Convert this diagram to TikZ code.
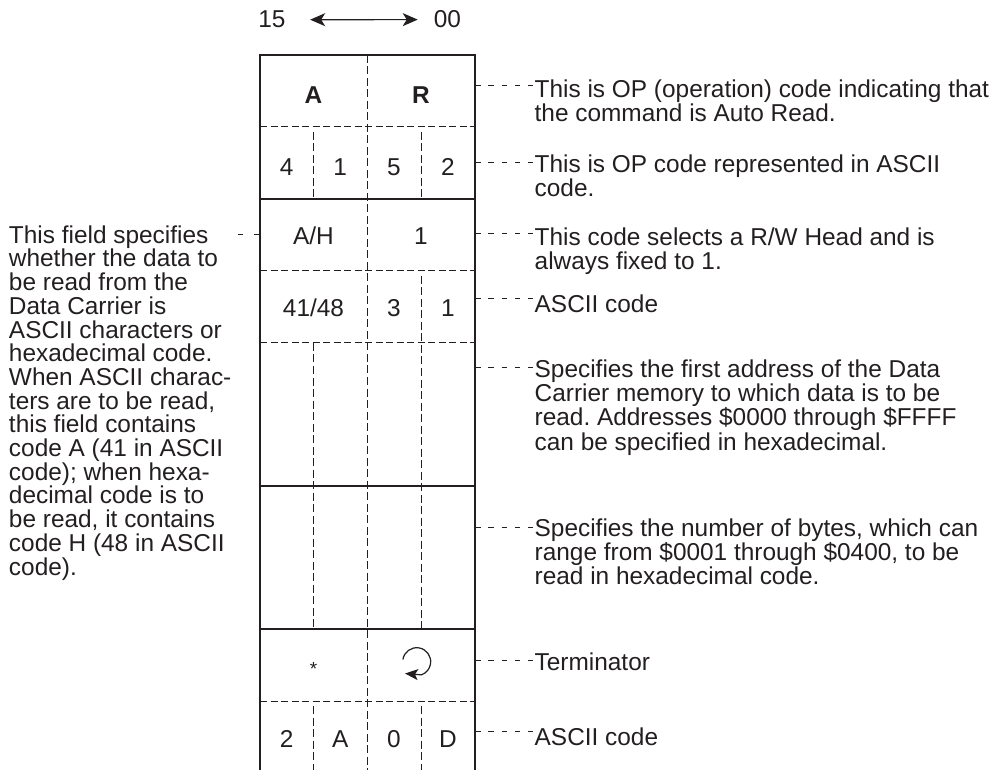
\documentclass[tikz,border=0pt]{standalone}
\usepackage{fontspec}
\setmainfont{Liberation Sans}
\usetikzlibrary{arrows.meta}
\definecolor{ink}{RGB}{35,31,32}
\newcommand{\tstrut}{\rule{0pt}{20pt}}
\frenchspacing
\begin{document}
\begin{tikzpicture}[x=1pt,y=1pt,
  txt/.style={font=\fontsize{24.4}{24.3}\selectfont\frenchspacing, inner sep=0pt, anchor=north west, align=left, text=ink},
  txtL/.style={txt, font=\fontsize{24.4}{23.7}\selectfont\frenchspacing},
  cell/.style={font=\fontsize{24.4}{24}\selectfont, inner sep=0pt, anchor=base, text=ink},
  bcell/.style={cell, font=\fontsize{24.4}{24}\selectfont\bfseries},
  outer/.style={line width=2.4pt, draw=ink},
  inner/.style={line width=1.5pt, draw=ink},
  hd/.style={line width=1pt, draw=ink, dash pattern=on 7pt off 3.5pt},
  vd/.style={line width=1pt, draw=ink, dash pattern=on 8pt off 3.5pt},
  leader/.style={line width=1pt, draw=ink, dash pattern=on 5.5pt off 7.8pt},
  leaderL/.style={line width=1pt, draw=ink, dash pattern=on 5pt off 11pt},
  arr/.style={line width=1.2pt, draw=ink, {Stealth[length=15pt,width=13pt,inset=4pt]}-{Stealth[length=15pt,width=13pt,inset=4pt]}},
]
\useasboundingbox (0,0) rectangle (997,-770);

% top bit-order arrow
\node[cell] (n15) at (272,-28) {15};
\node[cell] (n00) at (447.5,-28) {00};
\draw[arr, shorten <=24.4pt, shorten >=16pt] (n15) -- (n00);

% horizontal separators
\draw[hd] (260,-127) -- (475,-127);
\draw[inner] (260,-199) -- (475,-199);
\draw[hd] (260,-271) -- (475,-271);
\draw[hd] (260,-343) -- (475,-343);
\draw[inner] (260,-486) -- (475,-486);
\draw[inner] (260,-629) -- (475,-629);
\draw[hd] (260,-701) -- (475,-701);

% vertical dashed dividers
\draw[vd] (367,-55) -- (367,-770);
\draw[vd] (313.5,-132) -- (313.5,-199);
\draw[vd] (313.5,-343) -- (313.5,-629);
\draw[vd] (313.5,-706) -- (313.5,-770);
\draw[vd] (421,-132) -- (421,-199);
\draw[vd] (421,-276) -- (421,-629);
\draw[vd] (421,-706) -- (421,-770);

% outer frame (open at the bottom)
\draw[outer, line join=miter] (260,-770) -- (260,-55) -- (475,-55) -- (475,-770);

% cell contents
\node[bcell] (cA) at (313.5,-104) {A};
\node[bcell] (cR) at (421,-104) {R};
\node[cell] (c21) at (286.75,-176) {4};
\node[cell] (c22) at (340.25,-176) {1};
\node[cell] (c23) at (394,-176) {5};
\node[cell] (c24) at (448,-176) {2};
\node[cell] (c31) at (313.5,-245) {A/H};
\node[cell] (c32) at (421,-245) {1};
\node[cell] (c41) at (313.5,-317) {41/48};
\node[cell] (c42) at (394,-317) {3};
\node[cell] (c43) at (448,-317) {1};
\node[cell, font=\fontsize{19}{19}\selectfont] (c71) at (313.5,-675) {*};
\draw[line width=1.2pt, draw=ink, -{Stealth[length=13pt,width=11pt,inset=3pt]}]
  (416.7,-661.7) ++(171:14) arc[start angle=171, end angle=-70, radius=14] -- (405,-673.5);
\node[cell] (c81) at (286.75,-747) {2};
\node[cell] (c82) at (340.25,-747) {A};
\node[cell] (c83) at (394,-747) {0};
\node[cell] (c84) at (448,-747) {D};

% right-hand descriptions
\node[txt] (t1) at (534.5,-77) {\tstrut This is OP (operation) code indicating that\\the command is Auto Read.};
\node[txt] (t2) at (534.5,-152) {\tstrut This is OP code represented in ASCII\\code.};
\node[txt] (t3) at (534.5,-225) {\tstrut This code selects a R/W Head and is\\always fixed to 1.};
\node[txt] (t4) at (534.5,-292) {\tstrut ASCII code};
\node[txt] (t5) at (534.5,-357) {\tstrut Specifies the first address of the Data\\Carrier memory to which data is to be\\read. Addresses \$0000 through \$FFFF\\can be specified in hexadecimal.};
\node[txt] (t6) at (534.5,-516) {\tstrut Specifies the number of bytes, which can\\range from \$0001 through \$0400, to be\\read in hexadecimal code.};
\node[txt] (t7) at (534.5,-650) {\tstrut Terminator};
\node[txt] (t8) at (534.5,-725) {\tstrut ASCII code};

\coordinate (r1) at (475,-86);
\coordinate (r2) at (475,-163);
\coordinate (r3) at (475,-234);
\coordinate (r4) at (475,-298.7);
\coordinate (r5) at (475,-367.7);
\coordinate (r6) at (475,-527);
\coordinate (r7) at (475,-660);
\coordinate (r8) at (475,-731.7);
\draw[leader, shorten >=1.5pt] (r1) -- (r1 -| t1.west);
\draw[leader, shorten >=1.5pt] (r2) -- (r2 -| t2.west);
\draw[leader, shorten >=1.5pt] (r3) -- (r3 -| t3.west);
\draw[leader, shorten >=1.5pt] (r4) -- (r4 -| t4.west);
\draw[leader, shorten >=1.5pt] (r5) -- (r5 -| t5.west);
\draw[leader, shorten >=1.5pt] (r6) -- (r6 -| t6.west);
\draw[leader, shorten >=1.5pt] (r7) -- (r7 -| t7.west);
\draw[leader, shorten >=1.5pt] (r8) -- (r8 -| t8.west);

% left-hand description
\node[txtL] (tl) at (8.8,-223) {\tstrut This field specifies\\whether the data to\\be read from the\\Data Carrier is\\ASCII characters or\\hexadecimal code.\\When ASCII charac-\\ters are to be read,\\this field contains\\code A (41 in ASCII\\code); when hexa-\\decimal code is to\\be read, it contains\\code H (48 in ASCII\\code).};
\coordinate (l1) at (258.8,-235);
\coordinate (l1e) at (236,-235);
\draw[leaderL] (l1) -- (l1e);
\end{tikzpicture}
\end{document}
